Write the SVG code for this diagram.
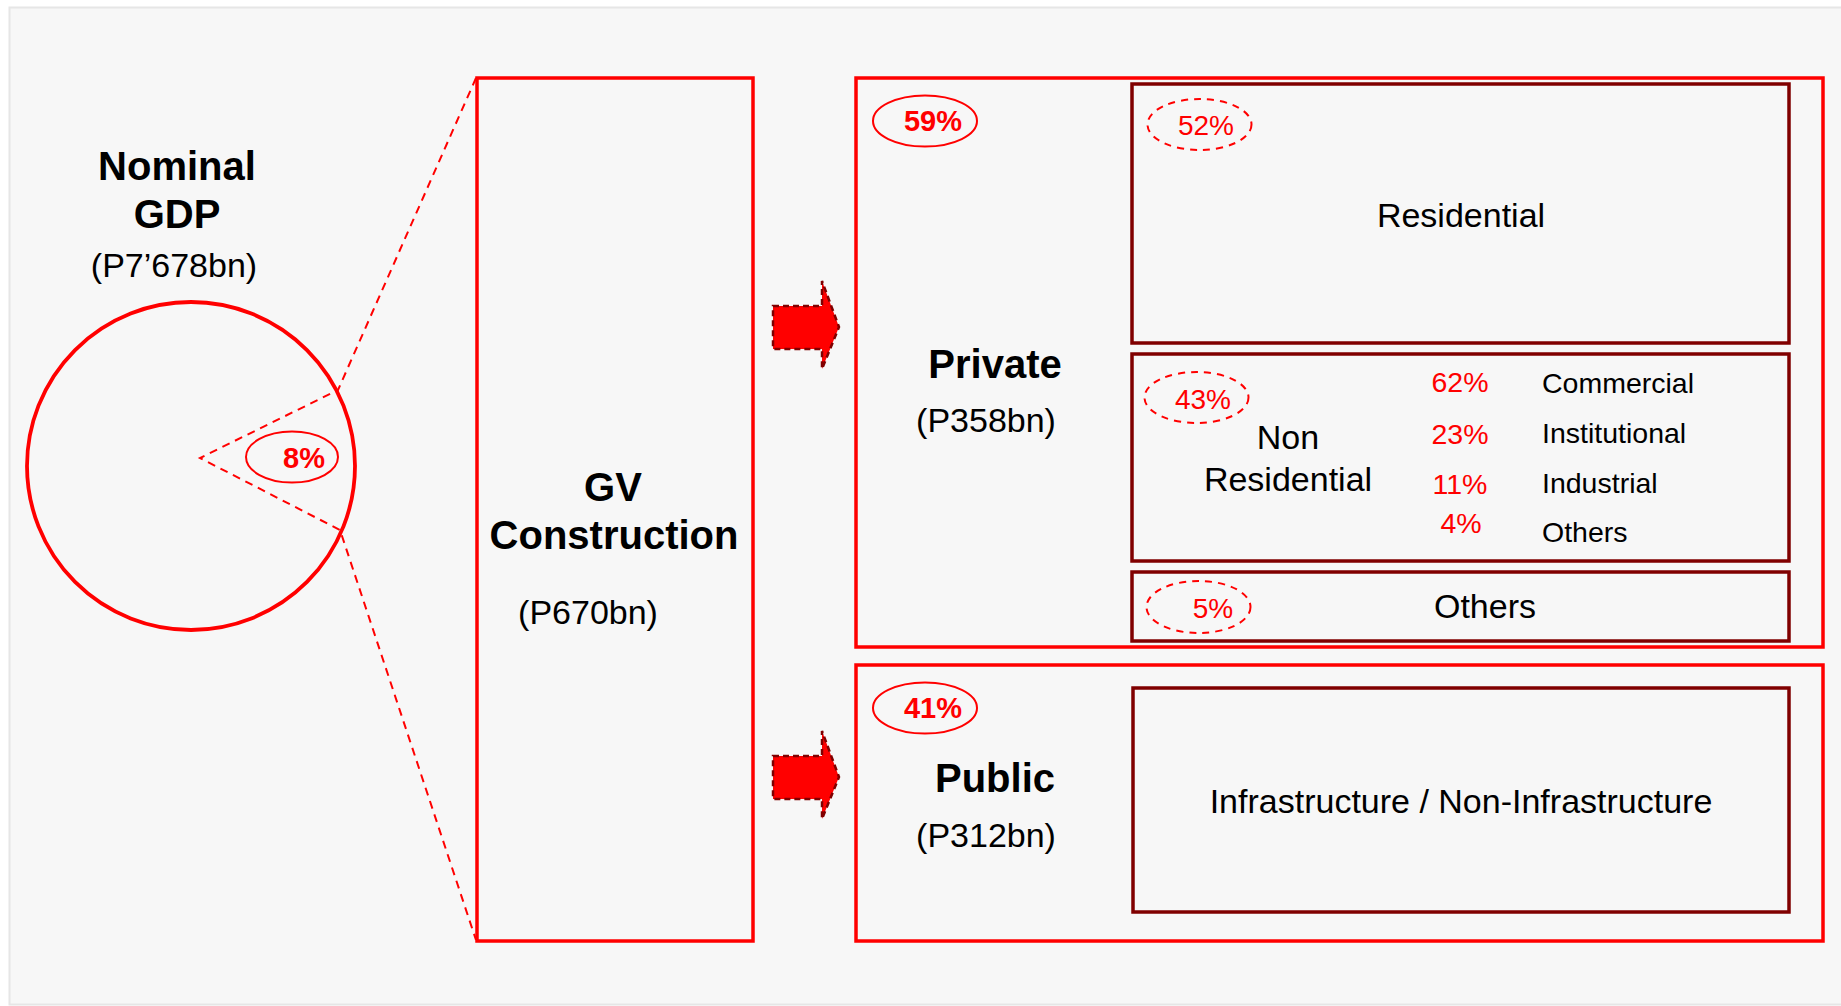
<svg xmlns="http://www.w3.org/2000/svg" width="1841" height="1006" viewBox="0 0 1841 1006">
<style>
.t{font-family:"Liberation Sans",Arial,sans-serif;fill:#000}
.b{font-weight:bold}
.red{fill:#ff0000}
.box{fill:none;stroke:#ff0000;stroke-width:3.5}
.inner{fill:none;stroke:#800000;stroke-width:3.5}
.pill{fill:none;stroke:#ff0000;stroke-width:2}
.dpill{fill:none;stroke:#ff0000;stroke-width:2;stroke-dasharray:7 6}
.dash{fill:none;stroke:#ff0000;stroke-width:2;stroke-dasharray:8 6}
.arrow{fill:#ff0000;stroke:#800000;stroke-width:2.5;stroke-dasharray:6 4}
</style>
<rect x="0" y="0" width="1841" height="1006" fill="#ffffff"/>
<rect x="9.5" y="7.5" width="1840" height="997" fill="#f7f7f7" stroke="#e6e6e6" stroke-width="2"/>

<g id="connectors">
<polyline class="dash" points="476,78 338,390 200,458 340,530 476,940"/>
<path class="arrow" d="M773,306 L822,306 L822,281 L839,327 L822,369 L822,349 L773,349 Z"/>
<path class="arrow" d="M773,756 L822,756 L822,731 L839,777 L822,819 L822,799 L773,799 Z"/>
</g>

<g id="gdp">
<circle cx="191" cy="466" r="164" fill="none" stroke="#ff0000" stroke-width="3.8"/>
<text class="t b" x="177" y="180" font-size="40" text-anchor="middle">Nominal</text>
<text class="t b" x="177" y="228" font-size="40" text-anchor="middle">GDP</text>
<text class="t" x="174" y="277" font-size="34" text-anchor="middle">(P7’678bn)</text>
<ellipse class="pill" cx="292" cy="457" rx="46" ry="25.5"/>
<text class="t b red" x="304" y="468" font-size="29" text-anchor="middle">8%</text>
</g>

<g id="gv">
<rect class="box" x="477" y="78" width="276" height="863"/>
<text class="t b" x="613" y="501" font-size="40" text-anchor="middle">GV</text>
<text class="t b" x="614" y="549" font-size="40" text-anchor="middle">Construction</text>
<text class="t" x="588" y="624" font-size="34" text-anchor="middle">(P670bn)</text>
</g>

<g id="private">
<rect class="box" x="856" y="78" width="967" height="569"/>
<ellipse class="pill" cx="925" cy="121" rx="52" ry="25.5"/>
<text class="t b red" x="933" y="131" font-size="29" text-anchor="middle">59%</text>
<text class="t b" x="995" y="378" font-size="40" text-anchor="middle">Private</text>
<text class="t" x="986" y="432" font-size="34" text-anchor="middle">(P358bn)</text>
</g>

<g id="residential">
<rect class="inner" x="1132" y="84" width="657" height="259"/>
<ellipse class="dpill" cx="1199.5" cy="124.5" rx="52" ry="25.5"/>
<text class="t red" x="1206" y="135" font-size="28" text-anchor="middle">52%</text>
<text class="t" x="1461" y="227" font-size="34" text-anchor="middle">Residential</text>
</g>

<g id="nonresidential">
<rect class="inner" x="1132" y="354" width="657" height="207"/>
<ellipse class="dpill" cx="1196.5" cy="397.5" rx="52" ry="25.5"/>
<text class="t red" x="1203" y="409" font-size="28" text-anchor="middle">43%</text>
<text class="t" x="1288" y="449" font-size="34" text-anchor="middle">Non</text>
<text class="t" x="1288" y="491" font-size="34" text-anchor="middle">Residential</text>
<text class="t red" x="1460" y="392" font-size="28.5" text-anchor="middle">62%</text>
<text class="t red" x="1460" y="444" font-size="28.5" text-anchor="middle">23%</text>
<text class="t red" x="1460" y="494" font-size="28.5" text-anchor="middle">11%</text>
<text class="t red" x="1461" y="533" font-size="28.5" text-anchor="middle">4%</text>
<text class="t" x="1542" y="393" font-size="28.5">Commercial</text>
<text class="t" x="1542" y="443" font-size="28.5">Institutional</text>
<text class="t" x="1542" y="493" font-size="28.5">Industrial</text>
<text class="t" x="1542" y="542" font-size="28.5">Others</text>
</g>

<g id="others">
<rect class="inner" x="1132" y="572" width="657" height="69"/>
<ellipse class="dpill" cx="1198.5" cy="607" rx="52" ry="26"/>
<text class="t red" x="1213" y="618" font-size="28" text-anchor="middle">5%</text>
<text class="t" x="1485" y="618" font-size="34" text-anchor="middle">Others</text>
</g>

<g id="public">
<rect class="box" x="856" y="665" width="967" height="276"/>
<ellipse class="pill" cx="925" cy="708" rx="52" ry="25.5"/>
<text class="t b red" x="933" y="718" font-size="29" text-anchor="middle">41%</text>
<text class="t b" x="995" y="792" font-size="40" text-anchor="middle">Public</text>
<text class="t" x="986" y="847" font-size="34" text-anchor="middle">(P312bn)</text>
</g>

<g id="infrastructure">
<rect class="inner" x="1133" y="688" width="656" height="224"/>
<text class="t" x="1461" y="813" font-size="34" text-anchor="middle">Infrastructure / Non-Infrastructure</text>
</g>
</svg>
